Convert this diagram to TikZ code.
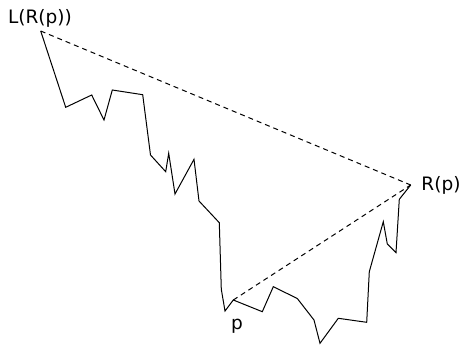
\documentclass[tikz,border=0pt]{standalone}
\usepackage{fontspec}
\setmainfont{DejaVu Sans}
\begin{document}
\begin{tikzpicture}[x=1pt,y=-1pt,
  walk/.style={line width=1pt,line join=miter},
  chord/.style={line width=1pt,dash pattern=on 5pt off 4pt},
  lbl/.style={font=\fontsize{18.5}{20}\selectfont,inner sep=0pt}]
\useasboundingbox (0,0) rectangle (461,345);
\coordinate (L) at (40.7,31);
\coordinate (P) at (233.3,300);
\coordinate (R) at (410.7,185);
\draw[walk] (L) -- (65.7,107.3) -- (91.7,95) -- (104,120) -- (112.3,90) -- (142.7,94.7)
  -- (150.5,155) -- (165.7,171.7) -- (168.7,153.3) -- (175,194) -- (194,159.3) -- (199,201)
  -- (219.3,222.7) -- (221.3,289.3) -- (225,311) -- (P) -- (262.3,311.7) -- (273.3,286.7)
  -- (297.3,298.5) -- (314,320) -- (320,343.3) -- (338.3,318.3) -- (366.7,322.3)
  -- (369.3,271.7) -- (383.3,221.7) -- (387.3,244) -- (396,252.7) -- (399.3,199.3) -- (R);
\draw[chord] (L) -- (R);
\draw[chord] (P) -- (R);
\node[lbl] (lL) at (40,18.5) {L(R(p))};
\node[lbl] (lR) at (441,185) {R(p)};
\node[lbl] (lP) at (237,326) {p};
\end{tikzpicture}
\end{document}
